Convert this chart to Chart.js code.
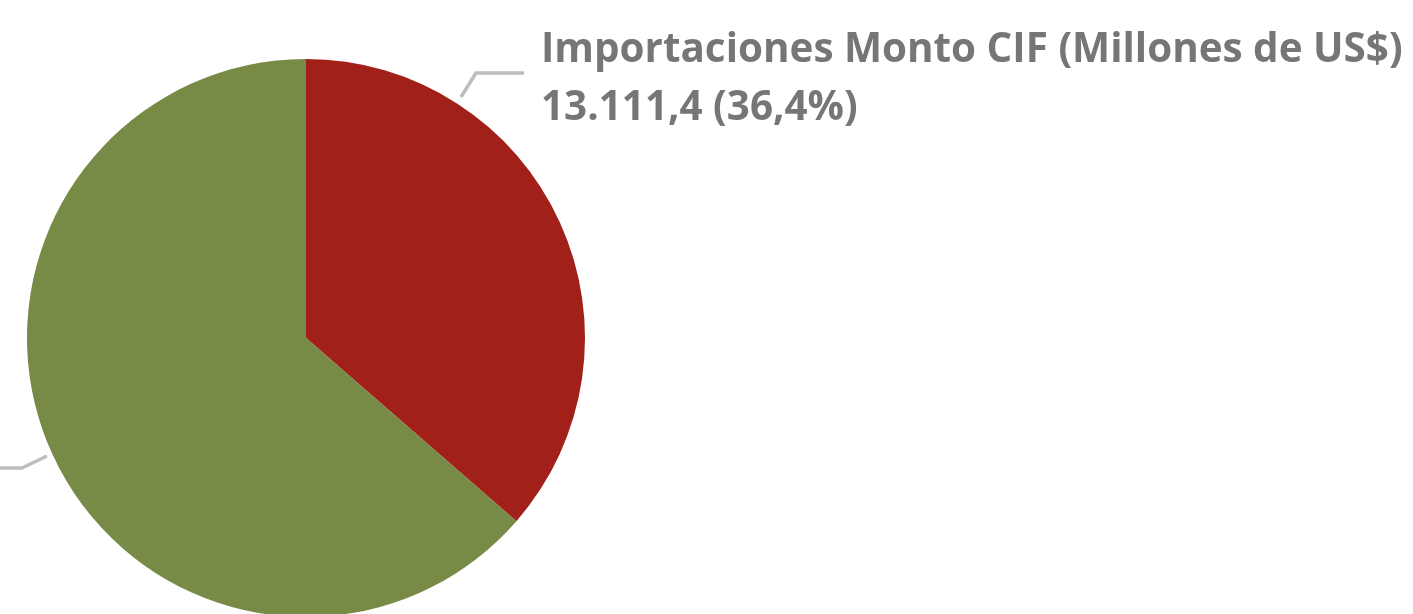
<!DOCTYPE html>
<html>
<head>
<meta charset="utf-8">
<script src="https://cdn.jsdelivr.net/npm/chart.js@4/dist/chart.umd.min.js"></script>
<style>
html,body{margin:0;padding:0;background:#fff;overflow:hidden;}
#wrap{position:relative;width:1413px;height:620px;}
</style>
</head>
<body>
<div id="wrap"><canvas id="c"></canvas></div>
<script>
const categories = ["Importaciones Monto CIF (Millones de US$)", "Exportaciones Monto FOB (Millones de US$)"];
const values = [13111.4, 22909.0];
const valueLabels = ["13.111,4 (36,4%)", "22.909,0 (63,6%)"];
const colors = ["#A1211A", "#778B46"];

const labelPlugin = {
  id: 'calloutLabels',
  afterDatasetsDraw(chart) {
    const ctx = chart.ctx;
    ctx.save();
    ctx.strokeStyle = '#BDBDBD';
    ctx.lineWidth = 3.5;
    ctx.lineJoin = 'round';
    ctx.beginPath();
    ctx.moveTo(461, 97); ctx.lineTo(476, 73); ctx.lineTo(524, 73);
    ctx.stroke();
    ctx.beginPath();
    ctx.moveTo(47, 456); ctx.lineTo(22, 468); ctx.lineTo(-10, 468);
    ctx.stroke();
    const targetW = 862;
    let size = 40;
    ctx.font = 'bold ' + size + 'px "Open Sans"';
    const w = ctx.measureText(categories[0]).width;
    size = size * targetW / w;
    ctx.font = 'bold ' + size + 'px "Open Sans"';
    const capH = size * 0.714;
    const k = 29 / capH;
    ctx.fillStyle = '#767676';
    ctx.textBaseline = 'alphabetic';
    ctx.textAlign = 'left';
    const lines = [[categories[0], 62], [valueLabels[0], 120]];
    for (const [t, y] of lines) {
      ctx.save();
      ctx.translate(541, y);
      ctx.scale(1, k);
      ctx.fillText(t, 0, 0);
      ctx.restore();
    }
    ctx.restore();
  }
};

new Chart(document.getElementById('c'), {
  type: 'pie',
  data: {
    labels: categories,
    datasets: [{ data: values, backgroundColor: colors, borderWidth: 0 }]
  },
  options: {
    responsive: true,
    maintainAspectRatio: false,
    animation: false,
    layout: { padding: { left: 27, right: 828, top: 59, bottom: 3 } },
    plugins: { legend: { display: false }, tooltip: { enabled: false } }
  },
  plugins: [labelPlugin]
});
</script>
</body>
</html>
